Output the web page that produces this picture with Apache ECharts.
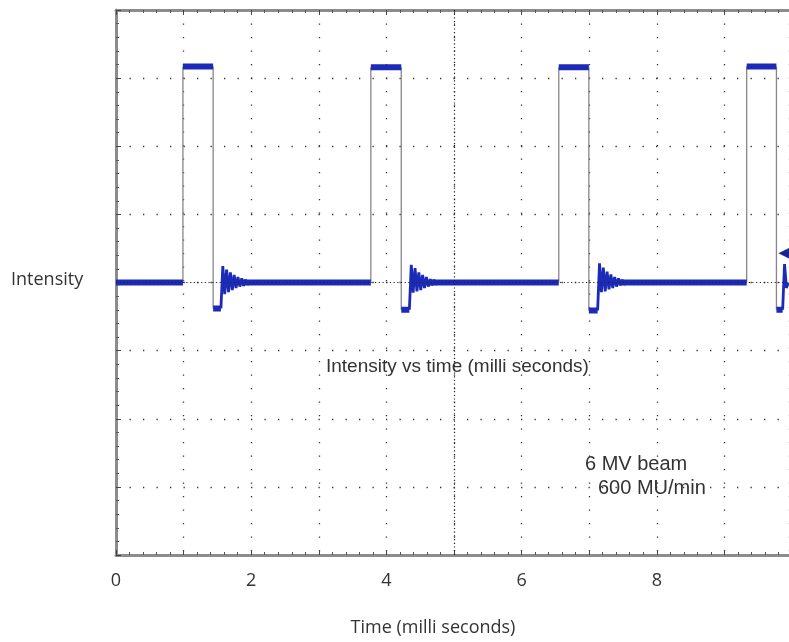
<!DOCTYPE html>
<html>
<head>
<meta charset="utf-8">
<script src="https://cdn.jsdelivr.net/npm/echarts@6/dist/echarts.min.js"></script>
<style>html,body{margin:0;padding:0;background:#fff}#main{width:789px;height:642px}</style>
</head>
<body>
<div id="main"></div>
<script>
// scope trace: time in ms, level in screen divisions
var riseT = [0.990, 3.770, 6.550, 9.330];
var fallT = [1.437, 4.220, 6.995, 9.770];
var topV = [3.17, 3.16, 3.16, 3.17];
var underV = [-0.38, -0.40, -0.41, -0.40];
var underEnd = [1.552, 4.340, 7.125, 9.862];
// ringing after each undershoot, one value per half period
var ring1 = [0.24, -0.17, 0.19, -0.14, 0.15, -0.11, 0.11, -0.08, 0.08, -0.06, 0.06, -0.05, 0.04, -0.03];
var ring2 = [0.26, -0.15, 0.21, -0.13, 0.15, -0.11, 0.11, -0.08, 0.08, -0.06, 0.05, -0.04, 0.04, -0.03];
var ring3 = [0.28, -0.14, 0.22, -0.13, 0.16, -0.10, 0.12, -0.08, 0.08, -0.06, 0.06, -0.04, 0.04, -0.03];
var ring4 = [0.27, -0.08];
var rings = [ring1, ring2, ring3, ring4];
var ringStep = 0.028;
var xLabels = [0, 2, 4, 6, 8];
var xMax = 9.956; // screen is cut just short of the 10th division
var trigger = [9.88, 0.43];

var flat = [], edges = [], ringing = [];
var start = 0;
for (var i = 0; i < riseT.length; i++) {
	// baseline, pulse top, undershoot -> thick band
	flat.push([start, 0], [riseT[i], 0], null);
	flat.push([riseT[i], topV[i]], [fallT[i], topV[i]], null);
	flat.push([fallT[i], underV[i]], [underEnd[i], underV[i]], null);
	// fast edges are faint on the scope
	edges.push([riseT[i], 0], [riseT[i], topV[i]], null);
	edges.push([fallT[i], topV[i]], [fallT[i], underV[i]], null);
	var t = underEnd[i];
	ringing.push([t, underV[i]]);
	for (var k = 0; k < rings[i].length; k++) {
		t += ringStep;
		ringing.push([t, rings[i][k]]);
	}
	t += ringStep;
	ringing.push([t, 0], null);
	start = t - ringStep * 4;
}

var gridDots = {color: '#333', width: 1.3, type: [1.3, 12.2]};
var frame = {color: '#8c8c8c', width: 3};
var labelFont = '"Open Sans"';
var noteFont = '"Liberation Sans"';

var myChart = echarts.init(document.getElementById('main'));
var option = {
	backgroundColor: '#fff',
	animation: false,
	grid: {left: 116, top: 10, right: 0, height: 545},
	xAxis: [
		{
			type: 'value', min: 0, max: xMax, interval: 1, position: 'bottom',
			axisLine: {onZero: false, lineStyle: frame},
			axisTick: {inside: true, length: 5, lineStyle: {color: '#444'}},
			minorTick: {show: true, splitNumber: 5, length: 3, lineStyle: {color: '#555'}},
			splitLine: {show: true, lineStyle: gridDots},
			axisLabel: {
				margin: 17, fontSize: 18, color: '#333', fontFamily: labelFont,
				showMaxLabel: false,
				formatter: function (v) { return xLabels.indexOf(v) >= 0 ? String(v) : ''; }
			}
		},
		{
			type: 'value', min: 0, max: xMax, interval: 1, position: 'top',
			axisLine: {onZero: false, lineStyle: frame},
			axisTick: {inside: true, length: 5, lineStyle: {color: '#444'}},
			minorTick: {show: true, splitNumber: 5, length: 3, lineStyle: {color: '#555'}},
			splitLine: {show: false},
			axisLabel: {show: false}
		}
	],
	yAxis: {
		type: 'value', min: -4, max: 4, interval: 1,
		axisLine: {onZero: false, lineStyle: frame},
		axisTick: {inside: true, length: 5, lineStyle: {color: '#444'}},
		minorTick: {show: true, splitNumber: 5, length: 3, lineStyle: {color: '#555'}},
		splitLine: {show: true, lineStyle: gridDots},
		axisLabel: {show: false}
	},
	graphic: [
		{type: 'text', x: 11, y: 280, style: {text: 'Intensity', font: '18px ' + labelFont, fill: '#333', verticalAlign: 'middle'}},
		{type: 'text', x: 433, y: 628, style: {text: 'Time (milli seconds)', font: '18px ' + labelFont, fill: '#333', align: 'center', verticalAlign: 'middle'}},
		{type: 'text', x: 326, y: 367, style: {text: 'Intensity vs time (milli seconds)', font: '19px ' + noteFont, fill: '#333', verticalAlign: 'middle'}},
		{type: 'text', x: 585, y: 464, style: {text: '6 MV beam', font: '20px ' + noteFont, fill: '#333', verticalAlign: 'middle'}},
		{type: 'text', x: 598, y: 488, style: {text: '600 MU/min', font: '20px ' + noteFont, fill: '#333', verticalAlign: 'middle'}}
	],
	series: [
		{
			type: 'line', data: [], z: 1, silent: true,
			markLine: {
				silent: true, symbol: 'none', label: {show: false},
				lineStyle: {color: '#222', width: 1.2, type: [1.2, 2.5]},
				data: [{xAxis: 5}, {yAxis: 0}]
			}
		},
		{
			name: 'edges', type: 'line', data: edges, z: 2, showSymbol: false,
			connectNulls: false, lineStyle: {color: '#85858f', width: 1.3}
		},
		{
			name: 'trace', type: 'line', data: flat, z: 3, showSymbol: false,
			connectNulls: false, lineStyle: {color: '#1c2ab8', width: 6}
		},
		{
			name: 'ringing', type: 'line', data: ringing, z: 3, showSymbol: false,
			connectNulls: false, lineStyle: {color: '#1c2ab8', width: 2.8}
		},
		{
			name: 'trigger', type: 'scatter', z: 4, silent: true, clip: false,
			symbol: 'triangle', symbolSize: [11, 11], symbolRotate: 90,
			itemStyle: {color: '#1a2590', opacity: 1},
			data: [trigger]
		}
	]
};
myChart.setOption(option);
</script>
</body>
</html>
